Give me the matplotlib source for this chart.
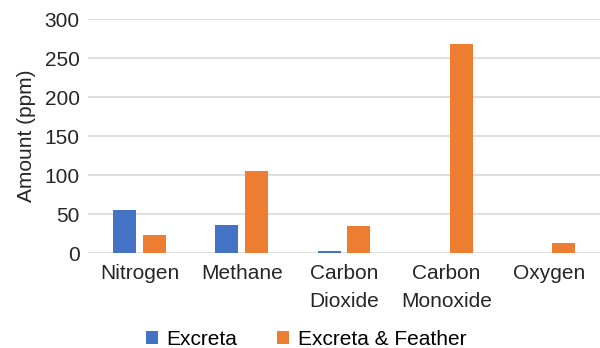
import numpy as np
import matplotlib.pyplot as plt

plt.rcParams['font.family'] = ['Liberation Sans', 'DejaVu Sans']

gases = ["Nitrogen", "Methane", "Carbon\nDioxide", "Carbon\nMonoxide", "Oxygen"]
excreta = [56, 36, 3, 0, 0]
excreta_feather = [23, 106, 35, 268, 13]

fig = plt.figure(figsize=(6, 3.48), dpi=100)
ax = fig.add_axes([0.147, 0.272, 0.853, 0.673])

x = np.arange(len(gases))
w = 0.225
gap = 0.065
ax.bar(x - (w + gap) / 2, excreta, w, color="#4472C4", label="Excreta", zorder=3)
ax.bar(x + (w + gap) / 2, excreta_feather, w, color="#ED7D31", label="Excreta & Feather", zorder=3)

txt = "#262626"
fs = 15
ax.set_xlim(-0.5, len(gases) - 0.5)
ax.set_ylim(0, 300)
ax.set_yticks(range(0, 301, 50))
ax.set_xticks(x)
ax.set_xticklabels(gases, fontsize=fs, color=txt, linespacing=1.6)
ax.tick_params(axis="y", labelsize=fs, colors=txt, length=0, pad=6)
ax.tick_params(axis="x", length=0, pad=8)
ax.grid(axis="y", color="#d9d9d9", linewidth=1.2, zorder=0)
for s in ax.spines.values():
    s.set_visible(False)
ax.set_ylabel("Amount (ppm)", fontsize=fs, color=txt, labelpad=6)

fig.legend(loc="center", bbox_to_anchor=(0.51, 0.025), ncol=2, frameon=False,
           fontsize=fs, handlelength=0.6, handleheight=0.6, handletextpad=0.4,
           columnspacing=1.9)

plt.savefig("out.png")
